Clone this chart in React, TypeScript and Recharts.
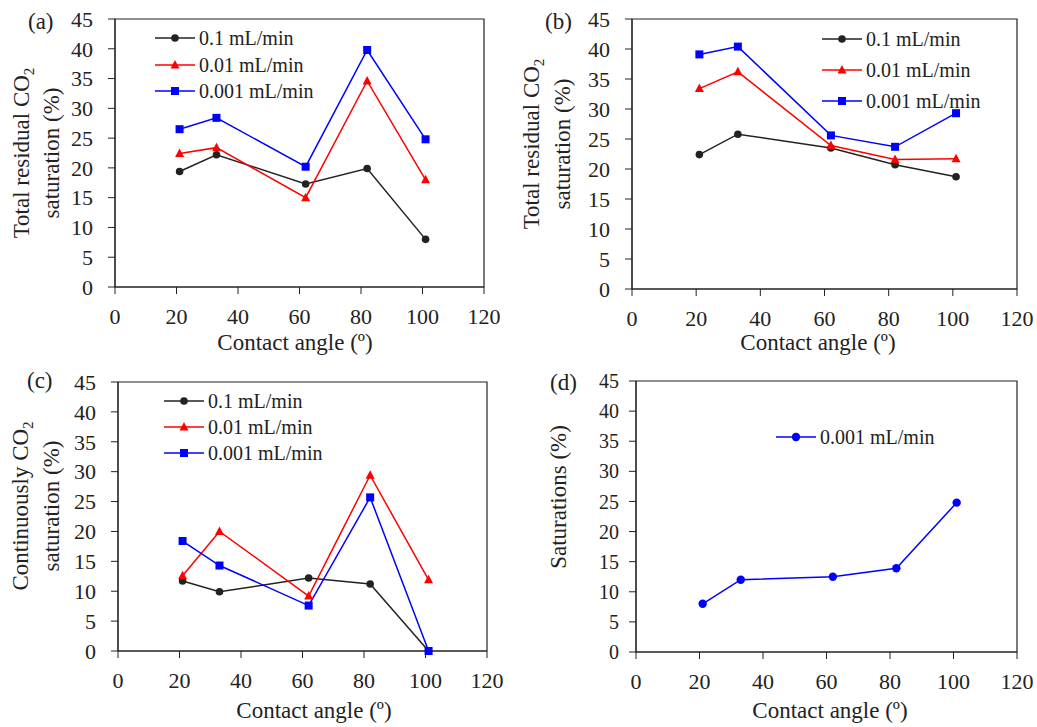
import React from "react";
import { LineChart, Line, XAxis, YAxis, Legend, ReferenceArea } from "recharts";

const contactAngles = [21, 33, 62, 82, 101];
const xTicks = [0, 20, 40, 60, 80, 100, 120];
const yTicks = [0, 5, 10, 15, 20, 25, 30, 35, 40, 45];
const flowRates = ["0.1 mL/min", "0.01 mL/min", "0.001 mL/min"];

// (a) total residual CO2 saturation
const residualA_fast = [19.4, 22.2, 17.3, 19.9, 8.0];
const residualA_mid = [22.4, 23.4, 15.0, 34.6, 18.0];
const residualA_slow = [26.5, 28.4, 20.2, 39.8, 24.8];

// (b) total residual CO2 saturation
const residualB_fast = [22.4, 25.8, 23.5, 20.7, 18.7];
const residualB_mid = [33.4, 36.2, 23.9, 21.6, 21.7];
const residualB_slow = [39.1, 40.4, 25.6, 23.7, 29.3];

// (c) continuously connected CO2 saturation
const continuous_fast = [11.7, 9.9, 12.2, 11.2, 0];
const continuous_mid = [12.6, 20.0, 9.2, 29.4, 11.9];
const continuous_slow = [18.4, 14.3, 7.6, 25.7, 0];

// (d) saturations at 0.001 mL/min
const saturation_slow = [8.0, 12.0, 12.5, 13.9, 24.8];

const FONT = "Liberation Serif, Times New Roman, DejaVu Serif, serif";
const INK = "#222";

const styles = [
  { color: "#222222", marker: "circle" },
  { color: "#ff0000", marker: "triangle" },
  { color: "#0000ff", marker: "square" },
];

function Marker({ cx, cy, kind, color }: any) {
  if (cx == null || cy == null) return null;
  if (kind === "triangle") {
    return <path d={`M${cx},${cy - 5} L${cx + 4.5},${cy + 3.5} L${cx - 4.5},${cy + 3.5} Z`} fill={color} />;
  }
  if (kind === "square") {
    return <rect x={cx - 4} y={cy - 4} width={8} height={8} fill={color} />;
  }
  return <circle cx={cx} cy={cy} r={kind === "bigcircle" ? 4.2 : 3.8} fill={color} />;
}

type Series = { key: string; name: string; values: number[]; color: string; marker: string };

type PanelProps = {
  left: number;
  top: number;
  width: number;
  height: number;
  plot: { top: number; right: number; yWidth: number; xHeight: number };
  series: Series[];
  tag: { text: string; x: number; y: number };
  yTitle: { lines: { text: string; sub?: string; x: number }[]; cy: number; size: number };
  yTickSize: number;
  xTitle: { x: number; y: number };
  legend: { left: number; top: number; gap: number };
};

function Panel(p: PanelProps) {
  const rows = contactAngles.map((x, i) => {
    const r: any = { x };
    p.series.forEach((s) => (r[s.key] = s.values[i]));
    return r;
  });

  const yTitle = () => (
    <g>
      <text x={p.tag.x} y={p.tag.y} fontSize={23} fontFamily={FONT} fill={INK}>
        {p.tag.text}
      </text>
      {p.yTitle.lines.map((l, i) => (
        <text
          key={i}
          transform={`translate(${l.x},${p.yTitle.cy}) rotate(-90)`}
          textAnchor="middle"
          fontSize={p.yTitle.size}
          fontFamily={FONT}
          fill={INK}
        >
          {l.text}
          {l.sub && (
            <tspan fontSize={p.yTitle.size * 0.65} dy={5}>
              {l.sub}
            </tspan>
          )}
        </text>
      ))}
    </g>
  );

  const xTitle = () => (
    <text x={p.xTitle.x} y={p.xTitle.y} textAnchor="middle" fontSize={23} fontFamily={FONT} fill={INK}>
      Contact angle (º)
    </text>
  );

  const legendContent = (props: any) => {
    const payload = [...(props.payload || [])].sort(
      (a: any, b: any) => p.series.findIndex((q) => q.key === a.dataKey) - p.series.findIndex((q) => q.key === b.dataKey)
    );
    return (
      <div style={{ fontFamily: FONT, fontSize: 20, color: INK }}>
        {payload.map((e: any) => {
          const s = p.series.find((q) => q.key === e.dataKey) || p.series[0];
          return (
            <div key={e.value} style={{ height: p.legend.gap, display: "flex", alignItems: "center", whiteSpace: "nowrap" }}>
              <svg width={40} height={14} style={{ display: "block" }}>
                <line x1={0} y1={7} x2={40} y2={7} stroke={e.color} strokeWidth={1.5} />
                <Marker cx={20} cy={7} kind={s.marker} color={e.color} />
              </svg>
              <span style={{ marginLeft: 4, lineHeight: 1 }}>{e.value}</span>
            </div>
          );
        })}
      </div>
    );
  };

  return (
    <div style={{ position: "absolute", left: p.left, top: p.top }}>
      <LineChart
        width={p.width}
        height={p.height}
        data={rows}
        margin={{ top: p.plot.top, right: p.plot.right, left: 0, bottom: 0 }}
      >
        <ReferenceArea x1={0} x2={120} y1={0} y2={45} fill="none" stroke={INK} strokeWidth={1.2} />
        <XAxis
          type="number"
          dataKey="x"
          domain={[0, 120]}
          ticks={xTicks}
          interval={0}
          height={p.plot.xHeight}
          tickSize={7}
          tickMargin={14}
          stroke={INK}
          tick={{ fill: INK, fontSize: 22, fontFamily: FONT }}
          label={xTitle}
        />
        <YAxis
          type="number"
          domain={[0, 45]}
          ticks={yTicks}
          interval={0}
          width={p.plot.yWidth}
          tickSize={7}
          tickMargin={p.yTickSize === 22 ? 15 : 10}
          stroke={INK}
          tick={{ fill: INK, fontSize: p.yTickSize, fontFamily: FONT }}
          label={yTitle}
        />
        <Legend
          layout="vertical"
          align="center"
          verticalAlign="middle"
          wrapperStyle={{ left: p.legend.left, top: p.legend.top, width: "auto" }}
          content={legendContent}
        />
        {p.series.map((s) => (
          <Line
            key={s.key}
            type="linear"
            dataKey={s.key}
            name={s.name}
            stroke={s.color}
            strokeWidth={1.5}
            isAnimationActive={false}
            activeDot={false}
            dot={(d: any) => <Marker key={`${s.key}-${d.index}`} cx={d.cx} cy={d.cy} kind={s.marker} color={s.color} />}
          />
        ))}
      </LineChart>
    </div>
  );
}

function threeRates(fast: number[], mid: number[], slow: number[]): Series[] {
  return [fast, mid, slow].map((values, i) => ({
    key: `s${i}`,
    name: flowRates[i],
    values,
    color: styles[i].color,
    marker: styles[i].marker,
  }));
}

export default function App() {
  return (
    <div style={{ position: "absolute", left: 0, top: 0, width: 1037, height: 727, background: "#fff", overflow: "hidden" }}>
      <Panel
        left={0}
        top={0}
        width={517}
        height={362}
        plot={{ top: 19, right: 33, yWidth: 115, xHeight: 75 }}
        series={threeRates(residualA_fast, residualA_mid, residualA_slow)}
        tag={{ text: "(a)", x: 28, y: 29 }}
        yTitle={{ lines: [{ text: "Total residual CO", sub: "2", x: 29 }, { text: "saturation (%)", x: 59 }], cy: 153, size: 23 }}
        yTickSize={22}
        xTitle={{ x: 295, y: 350 }}
        legend={{ left: 155, top: 25, gap: 26.5 }}
      />
      <Panel
        left={517}
        top={0}
        width={520}
        height={362}
        plot={{ top: 19, right: 20, yWidth: 115, xHeight: 73 }}
        series={threeRates(residualB_fast, residualB_mid, residualB_slow)}
        tag={{ text: "(b)", x: 28, y: 29 }}
        yTitle={{ lines: [{ text: "Total residual CO", sub: "2", x: 22 }, { text: "saturation (%)", x: 53 }], cy: 144, size: 23 }}
        yTickSize={22}
        xTitle={{ x: 301, y: 350 }}
        legend={{ left: 305, top: 23.5, gap: 31 }}
      />
      <Panel
        left={0}
        top={362}
        width={517}
        height={365}
        plot={{ top: 20, right: 30, yWidth: 118, xHeight: 76 }}
        series={threeRates(continuous_fast, continuous_mid, continuous_slow)}
        tag={{ text: "(c)", x: 27, y: 26 }}
        yTitle={{ lines: [{ text: "Continuously CO", sub: "2", x: 28 }, { text: "saturation (%)", x: 59 }], cy: 144, size: 23 }}
        yTickSize={22}
        xTitle={{ x: 314, y: 356 }}
        legend={{ left: 164, top: 26, gap: 26 }}
      />
      <Panel
        left={517}
        top={362}
        width={520}
        height={365}
        plot={{ top: 19, right: 20, yWidth: 119, xHeight: 75 }}
        series={[{ key: "s0", name: flowRates[2], values: saturation_slow, color: "#0000ff", marker: "bigcircle" }]}
        tag={{ text: "(d)", x: 33, y: 28 }}
        yTitle={{ lines: [{ text: "Saturations (%)", x: 49 }], cy: 135, size: 23 }}
        yTickSize={20}
        xTitle={{ x: 313, y: 356 }}
        legend={{ left: 259, top: 62, gap: 26 }}
      />
    </div>
  );
}
